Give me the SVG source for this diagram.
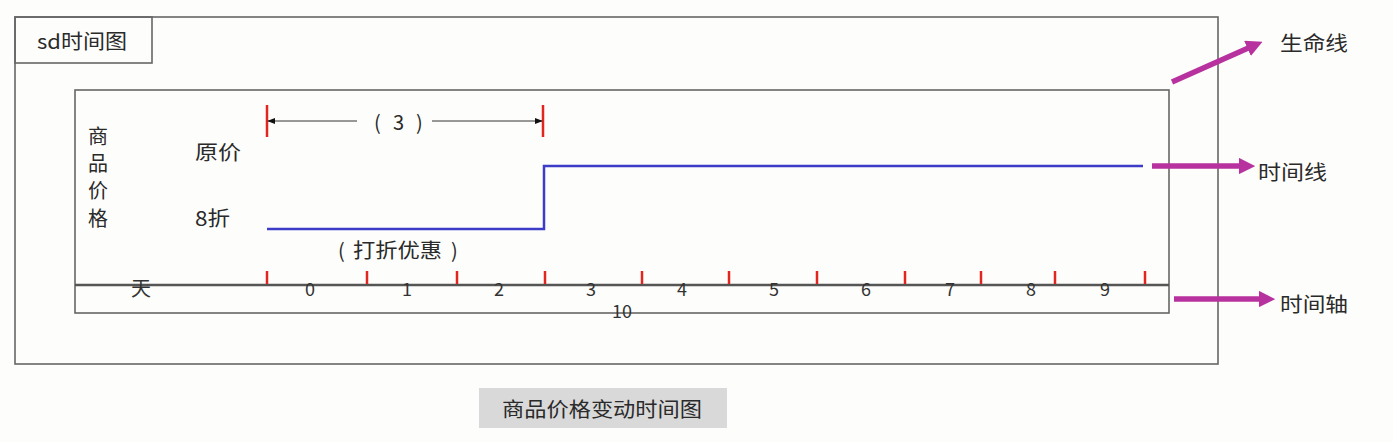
<svg xmlns="http://www.w3.org/2000/svg" width="1393" height="442" viewBox="0 0 1393 442">
<style>
text{font-family:"Noto Sans CJK SC","Liberation Sans",sans-serif;fill:#2a2a2a;font-size:20px}
.frame{fill:none;stroke:#666;stroke-width:1.6}
.tick{stroke:#e0261e;stroke-width:2.5}
.num{text-anchor:middle;font-size:18px;fill:#333}
.mag{stroke:#b8329f;stroke-width:5.5;fill:none}
</style>
<defs>
<marker id="ah" viewBox="0 0 10 10" refX="9" refY="5" markerWidth="8" markerHeight="8" orient="auto" markerUnits="userSpaceOnUse"><path d="M0,1 L10,5 L0,9 z" fill="#111"/></marker>
<marker id="mh" viewBox="0 0 10 10" refX="5" refY="5" markerWidth="3" markerHeight="3" orient="auto"><path d="M0,0 L10,5 L0,10 z" fill="#b8329f"/></marker>
</defs>
<rect width="1393" height="442" fill="#fdfdfb"/>
<g id="outer-frame">
<rect class="frame" x="15" y="17" width="1203" height="347"/>
</g>
<g id="sd-label">
<rect class="frame" x="15" y="17" width="137" height="46"/>
<text x="82" y="49" text-anchor="middle" textLength="90" lengthAdjust="spacingAndGlyphs">sd时间图</text>
</g>
<g id="inner-frame">
<rect class="frame" x="75" y="90" width="1094" height="223"/>
<text x="98" y="144" text-anchor="middle">商</text>
<text x="98" y="171" text-anchor="middle">品</text>
<text x="98" y="198" text-anchor="middle">价</text>
<text x="98" y="226" text-anchor="middle">格</text>
<text x="195" y="160" textLength="46" lengthAdjust="spacingAndGlyphs">原价</text>
<text x="195" y="226" textLength="35" lengthAdjust="spacingAndGlyphs">8折</text>
</g>
<g id="span-3">
<line class="tick" x1="267" y1="105" x2="267" y2="137"/>
<line class="tick" x1="543" y1="105" x2="543" y2="137"/>
<line x1="357" y1="121" x2="268" y2="121" stroke="#333" stroke-width="1" marker-end="url(#ah)"/>
<line x1="432" y1="121" x2="542" y2="121" stroke="#333" stroke-width="1" marker-end="url(#ah)"/>
<text y="130"><tspan x="374">(</tspan><tspan x="393">3</tspan><tspan x="416">)</tspan></text>
</g>
<g id="timeline">
<polyline points="267,229 544,229 544,166 1143,166" fill="none" stroke="#3c3cc8" stroke-width="2.5"/>
<text y="258"><tspan x="338">(</tspan><tspan x="353" textLength="89" lengthAdjust="spacingAndGlyphs">打折优惠</tspan><tspan x="451">)</tspan></text>
</g>
<g id="time-axis">
<line x1="75" y1="285" x2="1169" y2="285" stroke="#555" stroke-width="2.5"/>
<g class="ticks">
<line class="tick" x1="267" y1="271" x2="267" y2="284"/>
<line class="tick" x1="367" y1="271" x2="367" y2="284"/>
<line class="tick" x1="457" y1="271" x2="457" y2="284"/>
<line class="tick" x1="545" y1="271" x2="545" y2="284"/>
<line class="tick" x1="642" y1="271" x2="642" y2="284"/>
<line class="tick" x1="729" y1="271" x2="729" y2="284"/>
<line class="tick" x1="817" y1="271" x2="817" y2="284"/>
<line class="tick" x1="905" y1="271" x2="905" y2="284"/>
<line class="tick" x1="981" y1="271" x2="981" y2="284"/>
<line class="tick" x1="1055" y1="271" x2="1055" y2="284"/>
<line class="tick" x1="1145" y1="271" x2="1145" y2="284"/>
</g>
<text class="num" x="141" y="296" style="font-size:20px">天</text>
<text class="num" x="310" y="296">0</text>
<text class="num" x="407" y="296">1</text>
<text class="num" x="499" y="296">2</text>
<text class="num" x="591" y="296">3</text>
<text class="num" x="682" y="296">4</text>
<text class="num" x="774" y="296">5</text>
<text class="num" x="866" y="296">6</text>
<text class="num" x="950" y="296">7</text>
<text class="num" x="1031" y="296">8</text>
<text class="num" x="1105" y="296">9</text>
<text class="num" x="622" y="318">10</text>
</g>
<g id="connectors">
<line class="mag" x1="1172" y1="82" x2="1255" y2="45" marker-end="url(#mh)"/>
<line class="mag" x1="1152" y1="166" x2="1247" y2="166" marker-end="url(#mh)"/>
<line class="mag" x1="1174" y1="299" x2="1267" y2="299" marker-end="url(#mh)"/>
</g>
<g id="label-lifeline"><text x="1280" y="51" textLength="68" lengthAdjust="spacingAndGlyphs">生命线</text></g>
<g id="label-timeline"><text x="1258" y="180" textLength="69" lengthAdjust="spacingAndGlyphs">时间线</text></g>
<g id="label-timeaxis"><text x="1280" y="312" textLength="68" lengthAdjust="spacingAndGlyphs">时间轴</text></g>
<g id="caption">
<rect x="479" y="388" width="248" height="40" fill="#d9d9d9"/>
<text x="602" y="417" text-anchor="middle" textLength="200" lengthAdjust="spacingAndGlyphs">商品价格变动时间图</text>
</g>
</svg>
